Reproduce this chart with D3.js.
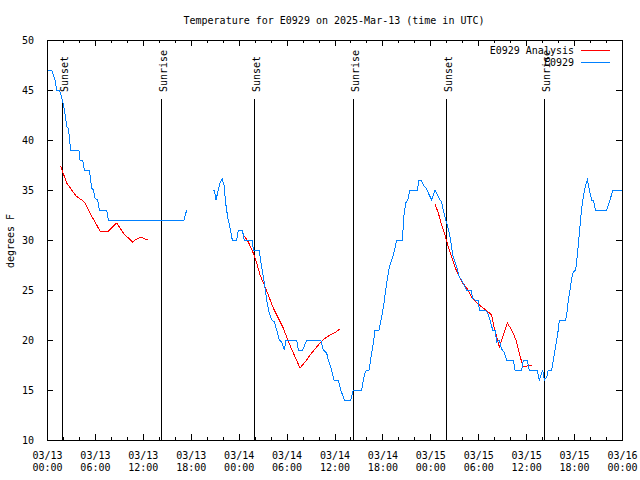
<!DOCTYPE html>
<html><head><meta charset="utf-8">
<script src="https://cdn.jsdelivr.net/npm/d3@7"></script>
<style>
html,body{margin:0;padding:0;background:#fff;}
text{font-family:"DejaVu Sans Mono","Liberation Mono",monospace;font-size:10px;fill:#000;}
</style></head><body>
<svg id="chart" width="640" height="480"></svg>
<script>
// ---- data (hours since 2025-03-13 00:00 UTC, degrees F) ----
const title = "Temperature for E0929 on 2025-Mar-13 (time in UTC)";
const yLabel = "degrees F";
const seriesNames = ["E0929 Analysis", "E0929"];
const seriesColors = ["#ff0000", "#0080ff"];

const obsSeg1 = [[0.16,47],[0.59,47],[1.0,46],[1.21,45],[1.54,45],[1.72,44.6],[1.92,44],[2.2,43],[2.47,41.3],[2.67,41.2],[2.97,39],[4.0,39],[4.13,38],[4.47,38],[4.67,37],[5.30,37],[5.6,35.2],[5.8,35],[6.0,34.2],[6.35,34],[6.55,33],[7.48,33],[7.68,32],[17.15,32],[17.49,33]];
const obsSeg2 = [[20.75,35],[20.95,35],[21.16,34],[21.45,35],[21.66,35.7],[21.95,36.1],[22.16,35.5],[22.37,33.7],[22.62,32.3],[22.92,31.2],[23.2,30],[23.75,30],[23.96,31],[24.46,31],[24.7,30],[25.7,30],[25.83,29],[26.55,29],[26.88,27.3],[27.21,25.7],[27.51,24],[27.8,22.8],[28.14,22],[28.47,21.8],[28.76,21],[29.09,20],[29.39,19.8],[29.71,19],[29.92,20],[31.27,20],[31.47,19],[32.02,19],[32.52,20],[34.27,20],[34.6,19],[35.02,18.7],[35.22,18],[35.64,17],[35.94,16],[36.48,16],[36.78,15],[37.23,14],[38.03,14],[38.35,15],[39.41,15],[39.61,16],[39.82,16.7],[40.03,17],[40.32,17],[40.66,18.7],[40.86,19.7],[41.07,21],[41.57,21],[41.91,22.3],[42.2,23.7],[42.53,25.7],[42.86,27.3],[43.29,28.3],[43.58,29.2],[43.79,30],[44.54,30],[44.62,32],[44.92,33.7],[45.17,34],[45.45,35],[46.37,35],[46.58,36],[46.83,36],[47.12,35.5],[47.46,35.2],[47.75,34.7],[48.17,34],[48.58,35],[48.92,34.5],[49.21,34],[49.42,33.8],[49.62,33],[49.92,32],[50.12,31.5],[50.38,30.7],[50.59,29.7],[50.8,28.5],[51.0,28],[51.3,27.3],[51.63,26.3],[51.93,26],[52.22,25.5],[52.55,25],[53.09,25],[53.3,24.2],[53.59,24],[54.01,24],[54.13,23],[54.85,23],[55.19,22.7],[55.47,22],[55.81,21],[56.1,21],[56.32,19.8],[56.6,20],[56.93,19.1],[57.22,18.8],[57.56,18],[58.39,18],[58.6,17],[59.44,17],[59.64,18],[60.14,18],[60.39,17],[61.39,17],[61.64,16],[61.85,16.5],[62.07,17],[62.27,16],[62.57,16.3],[62.77,17],[63.2,17],[63.4,18],[63.61,19],[63.82,20],[64.02,21],[64.15,22],[64.95,22],[65.15,23],[65.28,24],[65.49,25],[65.7,26.2],[65.9,26.8],[66.2,27],[66.4,28.4],[66.62,30.3],[66.83,32.2],[67.03,33.7],[67.24,34.7],[67.46,35.5],[67.66,36],[67.91,35],[68.21,34],[68.41,34],[68.66,33],[70.08,33],[70.29,33.5],[70.5,34],[70.79,34.8],[70.91,35],[71.96,35]];

const anaSeg1 = [[1.72,37.4],[1.97,36.8],[2.47,35.7],[3.09,35],[3.63,34.4],[4.35,34],[4.76,33.7],[5.38,32.7],[6.01,31.8],[6.64,30.9],[7.68,30.9],[8.73,31.7],[9.55,30.7],[10.05,30.3],[10.73,29.8],[11.23,30.1],[11.73,30.3],[12.27,30.1],[12.68,30.0]];
const anaSeg2 = [[24.71,30.4],[25.21,29.8],[25.83,28.7],[26.26,27.7],[26.67,26.5],[27.21,25.5],[27.71,24.5],[28.34,23.2],[28.96,22.2],[29.59,21.2],[30.14,20],[30.84,18.7],[31.68,17.2],[32.31,17.8],[33.15,18.7],[33.97,19.5],[34.69,20.1],[35.44,20.5],[36.19,20.8],[36.69,21.1]];
const anaSeg3 = [[48.58,33.6],[49.0,32.7],[49.42,31.5],[49.84,30.5],[50.25,29.3],[50.68,28.3],[51.09,27.3],[51.5,26.5],[52.05,25.7],[52.55,25.2],[53.18,24.3],[53.81,23.7],[54.63,23.2],[55.26,22.8],[55.68,22.5],[55.97,21.3],[56.31,20.3],[56.64,19.3],[57.06,20.3],[57.64,21.7],[58.19,21],[58.73,20],[59.14,18.7],[59.57,17.4],[60.07,17.4],[60.69,17.5]];

const sunEventHours = [1.92, 14.28, 25.96, 38.35, 49.96, 62.27];
const sunEventLabels = ["Sunset","Sunrise","Sunset","Sunrise","Sunset","Sunrise"];

const yTicks = [10,15,20,25,30,35,40,45,50];
const xMajorTickHours = [0,6,12,18,24,30,36,42,48,54,60,66,72];
const xMinorTickHours = d3.range(0, 73, 2).filter(h => h % 6 !== 0);

// ---- drawing ----
const START = Date.UTC(2025, 2, 13);
const toDate = h => new Date(START + h * 3600000);
const L = 47, R = 622, T = 40, B = 440;
const svg = d3.select("#chart");
svg.append("rect").attr("width",640).attr("height",480).attr("fill","#fff");

const x = d3.scaleUtc().domain([toDate(0), toDate(72)]).range([L, R]);
const y = d3.scaleLinear().domain([10, 50]).range([B, T]);

const fmtDay = d3.utcFormat("%m/%d"), fmtTime = d3.utcFormat("%H:%M");

function styleAxis(g){
  g.select(".domain").remove();
  g.selectAll("line").attr("stroke","#000").attr("shape-rendering","crispEdges");
  g.attr("font-family", null).attr("font-size", null);
}

// bottom major
const gb = svg.append("g").attr("transform",`translate(0,${B})`)
  .call(d3.axisBottom(x).tickValues(xMajorTickHours.map(toDate)).tickSizeInner(-6).tickSizeOuter(0).tickFormat(""));
styleAxis(gb);
gb.selectAll(".tick text").each(function(d){
  const t = d3.select(this).attr("y", null).attr("dy", null).attr("fill","#000");
  t.append("tspan").attr("x",0).attr("y",18.5).text(fmtDay(d));
  t.append("tspan").attr("x",0).attr("y",30.5).text(fmtTime(d));
});
// bottom minor
styleAxis(svg.append("g").attr("transform",`translate(0,${B})`)
  .call(d3.axisBottom(x).tickValues(xMinorTickHours.map(toDate)).tickSizeInner(-3).tickSizeOuter(0).tickFormat("")));
// top major/minor
styleAxis(svg.append("g").attr("transform",`translate(0,${T})`)
  .call(d3.axisTop(x).tickValues(xMajorTickHours.map(toDate)).tickSizeInner(-6).tickSizeOuter(0).tickFormat("")));
styleAxis(svg.append("g").attr("transform",`translate(0,${T})`)
  .call(d3.axisTop(x).tickValues(xMinorTickHours.map(toDate)).tickSizeInner(-3).tickSizeOuter(0).tickFormat("")));
// left
const gl = svg.append("g").attr("transform",`translate(${L},0)`)
  .call(d3.axisLeft(y).tickValues(yTicks).tickSizeInner(-6).tickSizeOuter(0).tickPadding(13).tickFormat(d3.format("d")));
styleAxis(gl);
gl.selectAll(".tick text").attr("fill","#000").attr("dy","0.35em");
// right
styleAxis(svg.append("g").attr("transform",`translate(${R},0)`)
  .call(d3.axisRight(y).tickValues(yTicks).tickSizeInner(-6).tickSizeOuter(0).tickFormat("")));

// frame
svg.append("rect").attr("x",L+0.5).attr("y",T+0.5).attr("width",R-L).attr("height",B-T)
  .attr("fill","none").attr("stroke","#000").attr("shape-rendering","crispEdges");

// sun events
const sun = svg.append("g");
sunEventHours.forEach((h,i) => {
  const xp = Math.round(x(toDate(h))) + 0.5;
  sun.append("line").attr("x1",xp).attr("x2",xp).attr("y1",99).attr("y2",B)
    .attr("stroke","#000").attr("shape-rendering","crispEdges");
  sun.append("text").attr("transform",`translate(${xp+5},92) rotate(-90)`)
    .attr("text-anchor","start").text(sunEventLabels[i]);
});

// series
const line = d3.line().x(d => x(toDate(d[0]))).y(d => y(d[1]));
const plot = svg.append("g");
[anaSeg1, anaSeg2, anaSeg3].forEach(seg => plot.append("path").attr("d", line(seg))
  .attr("fill","none").attr("stroke",seriesColors[0]).attr("stroke-width",1).attr("shape-rendering","crispEdges"));
[obsSeg1, obsSeg2].forEach(seg => plot.append("path").attr("d", line(seg))
  .attr("fill","none").attr("stroke",seriesColors[1]).attr("stroke-width",1).attr("shape-rendering","crispEdges"));

// legend
seriesNames.forEach((n,i) => {
  const yy = 49.5 + i*12.5;
  svg.append("text").attr("x",574).attr("y",yy+4).attr("text-anchor","end").text(n);
  svg.append("line").attr("x1",581).attr("x2",610).attr("y1",Math.round(yy)+0.5).attr("y2",Math.round(yy)+0.5)
    .attr("stroke",seriesColors[i]).attr("shape-rendering","crispEdges");
});

// title & y label
svg.append("text").attr("x",334).attr("y",24).attr("text-anchor","middle").text(title);
svg.append("text").attr("transform","translate(14,241) rotate(-90)").attr("text-anchor","middle").text(yLabel);
</script>
</body></html>
